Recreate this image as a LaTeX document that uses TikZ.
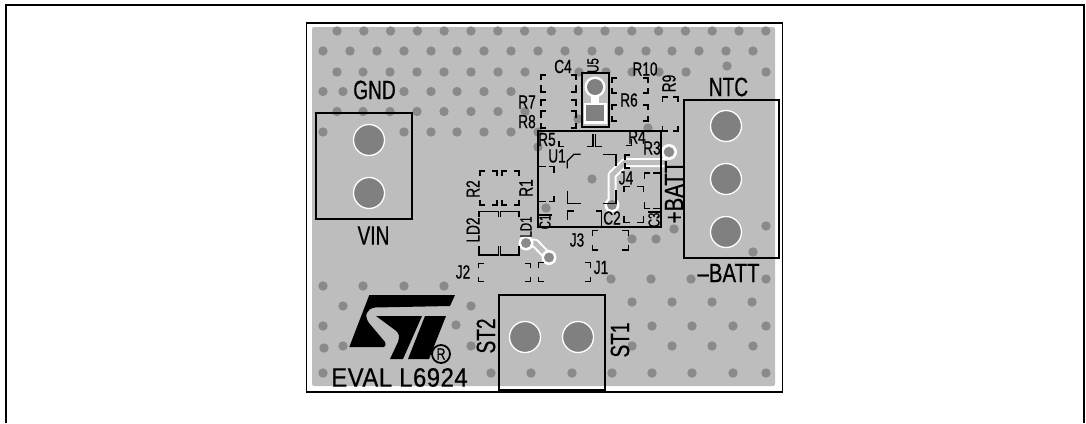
\documentclass[tikz,border=0pt]{standalone}
\usepackage{fontspec}
\setmainfont[FakeStretch=0.72,FakeBold=0.6]{Liberation Sans}
\newfontfamily\widefont[FakeStretch=0.9,FakeBold=0.6,LetterSpace=2]{Liberation Sans}
\newfontfamily\battfont[FakeStretch=0.77,FakeBold=0.6]{Liberation Sans}
\definecolor{boardgrey}{HTML}{BDBDBD}
\definecolor{viagrey}{HTML}{8A8A8A}
\definecolor{padgrey}{HTML}{808080}
\tikzset{
	silk/.style={line width=1.3pt,black},
	outline/.style={line width=2.2pt,black},
	via/.style={fill=viagrey,draw=none},
	bigname/.style={inner sep=0pt,font=\fontsize{26.5}{26.5}\selectfont},
	widename/.style={inner sep=0pt,font=\widefont\fontsize{26.5}{26.5}\selectfont},
	battname/.style={inner sep=0pt,font=\battfont\fontsize{26.5}{26.5}\selectfont},
	smallname/.style={inner sep=0pt,font=\fontsize{19}{19}\selectfont},
	tinyname/.style={inner sep=0pt,font=\fontsize{16}{16}\selectfont},
}
\begin{document}
\begin{tikzpicture}[x=1pt,y=-1pt]
	\useasboundingbox(0,0)rectangle(1086,423);
	\draw[outline](6,423)--(6,5)--(1084,5)--(1084,423);
	\draw[line width=1.5pt](306.5,23)rectangle(782.5,392);
	\fill[boardgrey,rounded corners=2pt](312,27)rectangle(775,386);
	% via field
	\foreach \x in {337,363.8,...,767}\fill[via](\x,31)circle(4.7);
	\foreach \x in {323,350,377,404,431,457,484,511,538,565,592,619,646,672,699,726,753}\fill[via](\x,51)circle(4.7);
	\foreach \x in {337,363,390,417,444,471,498,525,579,606,632,659,686,766}\fill[via](\x,72)circle(4.7);
	\fill[via](727,66)circle(4.7);
	\foreach \x in {323,343,404,431,457,484,511}\fill[via](\x,91.5)circle(4.7);
	\foreach \x in {337,363,390,417,444,471,498,525}\fill[via](\x,111.5)circle(4.7);
	\foreach \x in {323,404,431,457,484,511,538}\fill[via](\x,132)circle(4.7);
	\foreach \x/\y in {578/119,648/128,538/147,592/179,546/208,674/229,766/226,632/239,656/239,753/252,
		611/279,651/279,691/279,766/279,632/302,672/302,712/302,752/302,652/326,692/326,733/326,766/326,
		632/346,672/346,712/346,753/346,323/286,363/286,404/286,444/286,343/306,471/306,323/326,456/325,
		324/348,343/346,471/346,323/373,491/373,531/373,572/373,612/373,652/373,692/373,733/373,766/373}\fill[via](\x,\y)circle(4.7);
	% connector blocks
	\draw[outline](316,113)rectangle(412,219);
	\draw[outline](684,100)rectangle(779,258);
	\draw[outline](499,295)rectangle(605,390);
	\foreach \x/\y in {369/140,369/193,726/126,726/179,726/232,525/337,578/337}\filldraw[fill=padgrey,draw=white,line width=1.3pt](\x,\y)circle(15.5);
	% jumper U5
	\draw[line width=1.3pt,fill=boardgrey](582,73)rectangle(609,127);
	\fill[white](595,87)circle(10.5);
	\fill[white](591,95)rectangle(599,105);
	\fill[white](584,103)rectangle(607,124);
	\fill[padgrey](595,87)circle(8);
	\fill[padgrey](586,105)rectangle(604,121);
	% traces
	\draw[white,line width=9pt,line join=round](666,162.5)--(625,162.5)--(612,175)--(612,205);
	\fill[white](669,152)circle(8);
	\fill[white](612,205)circle(7.5);
	\draw[boardgrey,line width=5pt,line join=round](666,162.5)--(625,162.5)--(612,175)--(612,205);
	\fill[boardgrey](669,152)circle(5.5);
	\fill[via](669,152)circle(5);
	\fill[via](612,205)circle(5);
	\draw[white,line width=9pt,line join=round](526,243)--(535,243)--(549,257.5);
	\draw[boardgrey,line width=5pt,line join=round](526,243)--(535,243)--(549,257.5);
	\fill[white](526,243)circle(7.5);
	\fill[white](549,257.5)circle(7.5);
	\fill[via](526,243)circle(5);
	\fill[via](549,257.5)circle(5);
	% U1 outline
	\draw[line width=1.3pt](538,131)rectangle(661,227);
	\draw[silk](567.3,168.3)--(567.3,161)--(574,154.3)--(580.7,154.3);
	\draw[silk](567.7,190.7)--(567.7,203.3)--(580.7,203.3);
	\draw[silk](603.3,154.3)--(616,154.3)--(616,166);
	\draw[silk](616,190)--(616,203.3)--(603.3,203.3);
	% small part corners
	\foreach \x/\y/\dx/\dy in {
		612/78/5/5,648/78/-5/5,612/93/5/-5,648/93/-5/-5,612/105/5/5,648/105/-5/5,612/121/5/-5,648/121/-5/-5,
		662.5/97/5/5,678/97/-5/5,678/131/-5/-5,662.5/131/5/-5,
		480/171/5/5,497/171/-5/5,480/205/5/-5,497/205/-5/-5,502/171/5/5,519/171/-5/5,502/205/5/-5,519/205/-5/-5,
		559/146.7/5/-6,593/146.7/-6/-13,595.7/146.7/6/-13,631.7/145.7/-6/-7,
		554/166.7/-5/6,554/201.7/-5/-6,567.7/211/6/9,601.7/211/-6/15,
		625/155/5/5,625/168/5/-5,644.3/173/6/6,644.3/208.3/6/-6,
		624/186.7/6/5,643.3/186.7/-6/5,624/222.3/6/-6,643.3/222.3/-6/-6,
		592.3/230.7/6/5,592.3/250/6/-5,628.3/230.7/-6/5,628.3/250/-6/-5,
		538.3/262.7/6/5,538.3/281.7/6/-5,590.7/262.7/-6/5,590.7/281.7/-6/-5,
		478.3/263.3/6/5,478.3/281.7/6/-5,530.7/263.3/-6/5,530.7/281.7/-6/-5}
		\draw[silk](\x+\dx,\y)--(\x,\y)--(\x,\y+\dy);
	% R7 and R8 footprints
	\foreach \sx/\ex in {541/546,576/571}{
		\draw[silk](\ex,75)--(\sx,75)--(\sx,80);
		\draw[silk](\sx,85)--(\sx,92)--(\ex,92);
		\draw[silk](\ex,100)--(\sx,100)--(\sx,106);
		\draw[silk](\ex,111)--(\sx,111)--(\sx,118);
		\draw[silk](\sx,123)--(\sx,128)--(\ex,128);
	}
	\draw[silk](538,166.7)--(546,166.7);
	\draw[silk](538,201.7)--(546,201.7);
	\draw[silk](538,215)--(552,215);
	\draw[silk](653,173)--(661,173);
	\draw[silk](653,208.3)--(660,208.3);
	\draw[silk](648,212)--(660,212);
	% LD1 and LD2 footprints
	\draw[line width=1.5pt](479,217.3)--(479,211.7)--(498.3,211.7)--(498.3,217);
	\draw[line width=1.5pt](500.5,217)--(500.5,211.7)--(519,211.7)--(519,217);
	\draw[line width=1.5pt](479,246)--(479,255)--(498.3,255)--(498.3,246);
	\draw[line width=1.5pt](500.5,246)--(500.5,255)--(519,255)--(519,246);
	% logo
	\fill[black](369.3,295)--(455,295)--(450,306)--(375,307.5)..controls(366,309)and(364,316)..(369,323)--(385,342)..controls(386,344)and(386,346)..(384,347)--(349.3,347)--cycle;
	\fill[black](376,316)--(422,316)--(403,359)--(390,359)--(398,342)..controls(400,336)and(399,333)..(395,330)--cycle;
	\fill[black](425,316)--(446,316)--(429,359)--(408,359)--cycle;
	\node[draw,circle,line width=1.8pt,minimum size=18pt,inner sep=0pt,font=\battfont\fontsize{16}{16}\selectfont](regmark)at(441,354){R};
	% connector names
	\node[bigname](gnd)at(374.5,90){GND};
	\node[bigname](vin)at(373.5,235.5){VIN};
	\node[bigname](ntc)at(728.5,87){NTC};
	\node[battname](minusbatt)at(728.5,273){–BATT};
	\node[battname,rotate=90](plusbatt)at(674,192){+BATT};
	\node[bigname,rotate=90](sttwo)at(486,336){ST2};
	\node[bigname,rotate=90](stone)at(620,340){ST1};
	\node[widename](eval)at(399.5,377.5){EVAL L6924};
	% part names
	\node[smallname](cfour)at(563,66.5){C4};
	\node[tinyname,rotate=90](ufive)at(593,65.5){U5};
	\node[smallname](rseven)at(527,102){R7};
	\node[smallname](reight)at(527,121.6){R8};
	\node[smallname](rten)at(645,69){R10};
	\node[smallname](rsix)at(629,100){R6};
	\node[smallname,rotate=90](rnine)at(669,83.5){R9};
	\node[smallname](rfive)at(547,139.5){R5};
	\node[smallname](uone)at(557,156){U1};
	\node[smallname](rfour)at(637,137){R4};
	\node[smallname](rthree)at(652,148){R3};
	\node[smallname](jfour)at(626,178){J4};
	\node[smallname](ctwo)at(612,218){C2};
	\node[tinyname,rotate=90](cone)at(545,222){C1};
	\node[tinyname,rotate=90](cthree)at(654,220){C3};
	\node[smallname](jthree)at(577,240){J3};
	\node[smallname](jone)at(601,267.5){J1};
	\node[smallname](jtwo)at(463,272){J2};
	\node[smallname,rotate=90](rtwo)at(473,189){R2};
	\node[smallname,rotate=90](rone)at(526,188){R1};
	\node[smallname,rotate=90](ldtwo)at(473,230){LD2};
	\node[tinyname,rotate=90](ldone)at(526,227){LD1};
\end{tikzpicture}
\end{document}
